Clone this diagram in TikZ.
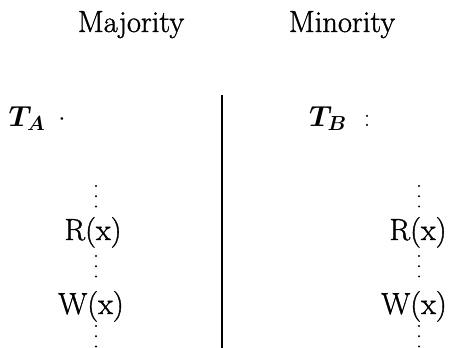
\RequirePackage{fix-cm}
\documentclass[tikz,border=0pt]{standalone}
\usepackage{fontspec}
\newfontfamily\heavyrm{Latin Modern Roman}[FakeBold=1.2]
\tikzset{
  lbl/.style={inner sep=0pt, anchor=base, font=\fontsize{30.5}{36}\heavyrm},
  mlbl/.style={inner sep=0pt, anchor=base, font=\fontsize{29}{34}\selectfont\boldmath},
  plbl/.style={inner sep=0pt, anchor=base, font=\fontsize{26}{30}\selectfont},
  dotcol/.style={line width=2.2pt, line cap=round, dash pattern=on 0pt off 10.2pt},
  divider/.style={line width=2pt}
}
\begin{document}
\begin{tikzpicture}[x=1pt,y=-1pt]
\useasboundingbox (0,0) rectangle (453,348);
% headings
\node[lbl] (maj) at (131,32) {Majority};
\node[lbl] (min) at (342,32) {Minority};
% transaction labels
\node[mlbl] (ta) at (27,126) {$T_A$};
\node[plbl] (tacol) at (62,125) {$\cdot$};
\node[mlbl] (tb) at (328,126) {$T_B$};
\node[plbl] (tbcol) at (367,126) {$:$};
% divider
\coordinate (dtop) at (222,95);
\coordinate (dbot) at (222,348);
\draw[divider] (dtop) -- (dbot);
% left column
\node[lbl] (ra) at (93,240) {R(x)};
\node[lbl] (wa) at (91,314) {W(x)};
\coordinate (la1) at (96,186);
\coordinate (la2) at (96,207);
\coordinate (lb1) at (96,256);
\coordinate (lb2) at (96,277);
\coordinate (lc1) at (96,326);
\coordinate (lc2) at (96,347);
\draw[dotcol] (la1) -- (la2);
\draw[dotcol] (lb1) -- (lb2);
\draw[dotcol] (lc1) -- (lc2);
% right column
\node[lbl] (rb) at (418,240) {R(x)};
\node[lbl] (wb) at (414,314) {W(x)};
\coordinate (ra1) at (419,186);
\coordinate (ra2) at (419,207);
\coordinate (rb1) at (419,256);
\coordinate (rb2) at (419,277);
\coordinate (rc1) at (419,326);
\coordinate (rc2) at (419,347);
\draw[dotcol] (ra1) -- (ra2);
\draw[dotcol] (rb1) -- (rb2);
\draw[dotcol] (rc1) -- (rc2);
\end{tikzpicture}
\end{document}
